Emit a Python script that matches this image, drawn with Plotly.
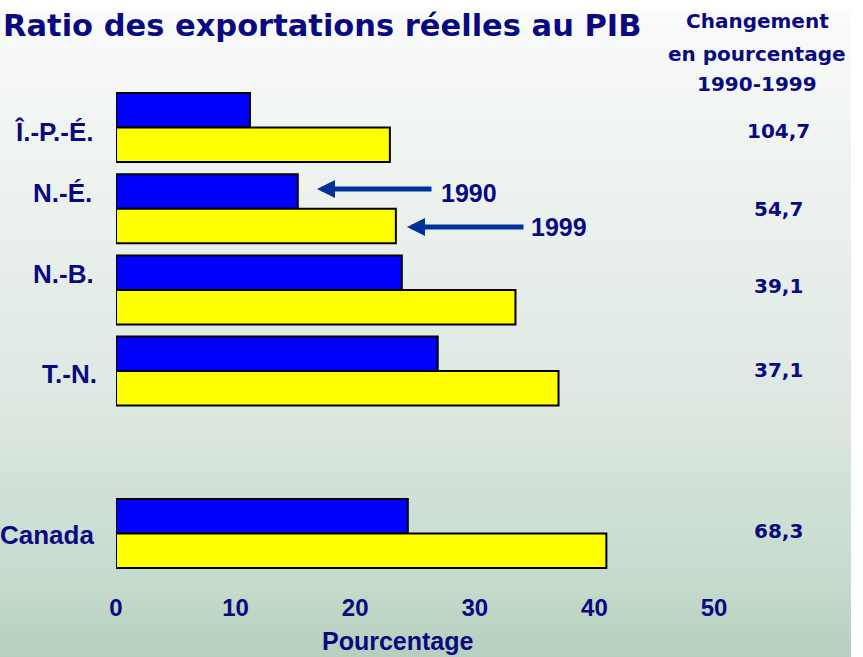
import plotly.graph_objects as go

# ---- data ----
categories = ["Î.-P.-É.", "N.-É.", "N.-B.", "T.-N.", " ", "Canada"]
bar_categories = ["Î.-P.-É.", "N.-É.", "N.-B.", "T.-N.", "Canada"]
ratio_1990 = [11.2, 15.2, 23.9, 26.9, 24.4]
ratio_1999 = [22.9, 23.4, 33.4, 37.0, 41.0]
pct_change = ["104,7", "54,7", "39,1", "37,1", "68,3"]
x_ticks = [0, 10, 20, 30, 40, 50]

NAVY = "#0a0a80"
ARROW = "#003399"

# plot-area geometry (pixels)
W_FIG, H_FIG = 863, 657
L, T, PW, PH = 116, 87, 598, 487


def px(xp):
    return (xp - L) / PW


def py(yp):
    return (T + PH - yp) / PH


fig = go.Figure()
fig.add_trace(go.Bar(y=bar_categories, x=ratio_1990, orientation="h", name="1990",
                     marker=dict(color="#0000ff", line=dict(color="black", width=2))))
fig.add_trace(go.Bar(y=bar_categories, x=ratio_1999, orientation="h", name="1999",
                     marker=dict(color="#ffff00", line=dict(color="black", width=2))))

# gradient background made of thin bands
stops = [(10, (250, 251, 250)), (100, (243, 246, 244)), (250, (233, 239, 235)),
         (400, (222, 232, 226)), (500, (208, 224, 214)), (590, (196, 218, 203)),
         (657, (182, 207, 190))]


def col_at(yp):
    for (y0, c0), (y1, c1) in zip(stops[:-1], stops[1:]):
        if y0 <= yp <= y1:
            t = (yp - y0) / (y1 - y0)
            return tuple(round(a + (b - a) * t) for a, b in zip(c0, c1))
    return stops[-1][1]


shapes = []
band = 8
yp = 10
while yp < 657:
    y2 = min(yp + band, 657)
    c = col_at((yp + y2) / 2)
    shapes.append(dict(type="rect", xref="paper", yref="paper", layer="below",
                       x0=px(0), x1=px(851), y0=py(y2), y1=py(yp),
                       fillcolor="rgb(%d,%d,%d)" % c, line=dict(width=0)))
    yp = y2

ann = []
ann.append(dict(text="Ratio des exportations réelles au PIB", x=px(322), y=py(25),
                xref="paper", yref="paper", showarrow=False, xanchor="center", yanchor="middle",
                font=dict(family="DejaVu Sans", size=30.5, color=NAVY, weight="bold")))
for txt, yc in zip(["Changement", "en pourcentage", "1990-1999"], [21, 54, 84]):
    ann.append(dict(text=txt, x=px(757), y=py(yc), xref="paper", yref="paper",
                    showarrow=False, xanchor="center", yanchor="middle",
                    font=dict(family="DejaVu Sans", size=20, color=NAVY, weight="bold")))

label_yshift = [-4, 16, 16, -3, -2]
label_xright = [96, 94, 96, 99, 96]
for cat, ys, xr in zip(bar_categories, label_yshift, label_xright):
    ann.append(dict(text=cat, x=px(xr), y=cat, xref="paper", yref="y",
                    yshift=ys, showarrow=False, xanchor="right", yanchor="middle",
                    font=dict(family="Liberation Sans", size=26, color=NAVY, weight="bold")))

value_yshift = [-3, 0, 4, 1, 2]
for cat, v, ys in zip(bar_categories, pct_change, value_yshift):
    ann.append(dict(text=v, x=px(778), y=cat, xref="paper", yref="y",
                    yshift=ys, showarrow=False, xanchor="center", yanchor="middle",
                    font=dict(family="DejaVu Sans", size=20, color=NAVY, weight="bold")))

ann.append(dict(text="Pourcentage", x=px(398), y=py(641), xref="paper", yref="paper",
                showarrow=False, xanchor="center", yanchor="middle",
                font=dict(family="Liberation Sans", size=25, color=NAVY, weight="bold")))

# arrows with year labels
for head_x, tail_x, yline, label, lab_x, lab_y in [(317, 433, 189, "1990", 439, 193),
                                                     (407, 525, 227, "1999", 529, 227)]:
    ann.append(dict(text="", x=px(head_x), y=py(yline), xref="paper", yref="paper",
                    ax=tail_x - head_x, ay=0, showarrow=True, arrowhead=2, arrowsize=0.72,
                    arrowwidth=5, arrowcolor=ARROW, standoff=0))
    ann.append(dict(text=label, x=px(lab_x), y=py(lab_y), xref="paper",
                    yref="paper", showarrow=False, xanchor="left", yanchor="middle",
                    font=dict(family="Liberation Sans", size=25, color=NAVY, weight="bold")))

fig.update_layout(
    width=W_FIG, height=H_FIG,
    margin=dict(l=L, r=W_FIG - L - PW, t=T, b=H_FIG - T - PH, pad=0),
    paper_bgcolor="white", plot_bgcolor="rgba(0,0,0,0)",
    barmode="group", bargap=0.15, bargroupgap=0,
    showlegend=False, shapes=shapes, annotations=ann,
    xaxis=dict(range=[0, 50], tickvals=x_ticks, showgrid=False, zeroline=False,
               showline=False, ticks="", ticklabelstandoff=17,
               tickfont=dict(family="Liberation Sans", size=24, color=NAVY, weight="bold")),
    yaxis=dict(type="category", categoryorder="array", categoryarray=categories,
               range=[5.5, -0.5], showgrid=False, zeroline=False, showline=False,
               showticklabels=False, ticks=""),
)

fig.write_html("out.html", config={"displayModeBar": False},
               post_script="document.body.style.margin='0';"
                           "document.body.style.overflow='hidden';")
